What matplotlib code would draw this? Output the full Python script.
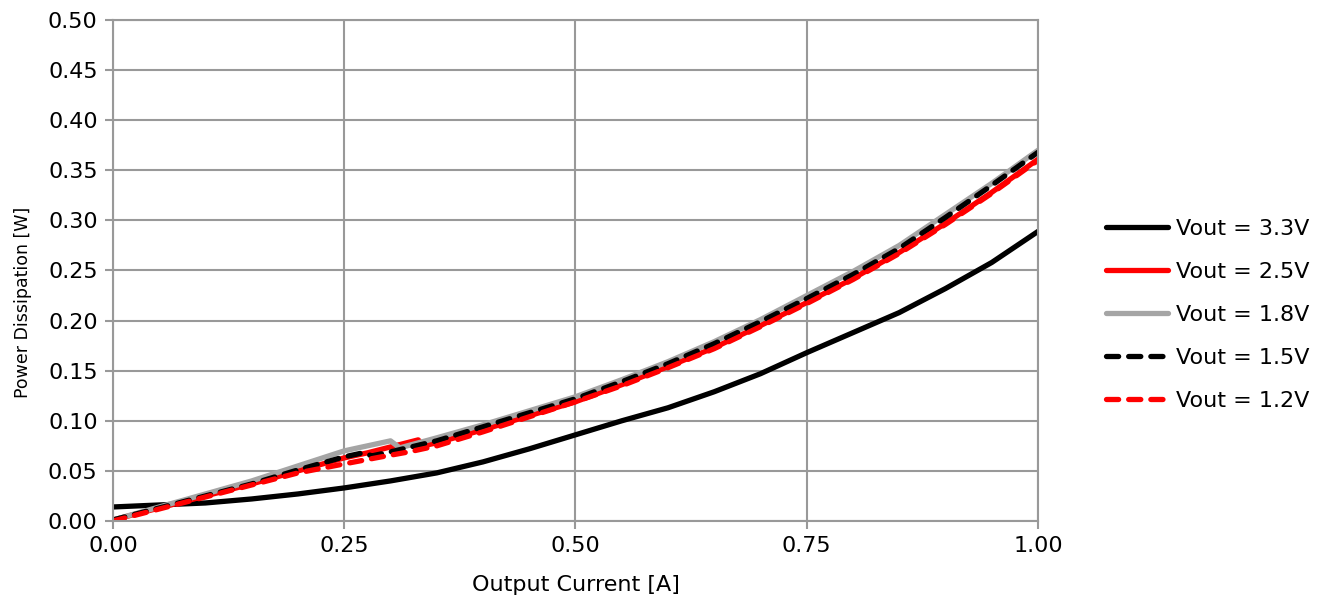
import matplotlib
matplotlib.use('Agg')
import matplotlib.pyplot as plt
from matplotlib.ticker import FormatStrFormatter, MultipleLocator

# Output current [A] / power dissipation [W]
x_33 = [0.00, 0.05, 0.10, 0.15, 0.20, 0.25, 0.30, 0.35, 0.40, 0.45, 0.50,
        0.55, 0.60, 0.65, 0.70, 0.75, 0.80, 0.85, 0.90, 0.95, 1.00]
p_33 = [0.014, 0.016, 0.018, 0.022, 0.027, 0.033, 0.040, 0.048, 0.059, 0.072, 0.086,
        0.100, 0.113, 0.129, 0.147, 0.168, 0.188, 0.208, 0.232, 0.258, 0.289]

x_25 = [0.00, 0.05, 0.10, 0.15, 0.20, 0.25, 0.275, 0.33, 0.335, 0.35, 0.40, 0.45, 0.50,
        0.55, 0.60, 0.65, 0.70, 0.75, 0.80, 0.85, 0.90, 0.95, 1.00]
p_25 = [0.001, 0.013, 0.025, 0.037, 0.050, 0.063, 0.068, 0.081, 0.075, 0.078, 0.091, 0.105, 0.119,
        0.136, 0.154, 0.173, 0.195, 0.218, 0.242, 0.268, 0.297, 0.328, 0.361]

x_18 = [0.00, 0.05, 0.10, 0.15, 0.20, 0.25, 0.30, 0.31, 0.35, 0.40, 0.45, 0.50,
        0.55, 0.60, 0.65, 0.70, 0.75, 0.80, 0.85, 0.90, 0.95, 1.00]
p_18 = [0.001, 0.014, 0.027, 0.040, 0.055, 0.070, 0.080, 0.073, 0.083, 0.096, 0.110, 0.124,
        0.141, 0.159, 0.179, 0.201, 0.225, 0.249, 0.275, 0.306, 0.337, 0.370]

x_15 = [0.00, 0.05, 0.10, 0.15, 0.20, 0.25, 0.27, 0.28, 0.30, 0.35, 0.40, 0.45, 0.50,
        0.55, 0.60, 0.65, 0.70, 0.75, 0.80, 0.85, 0.90, 0.95, 1.00]
p_15 = [0.001, 0.013, 0.025, 0.037, 0.051, 0.064, 0.068, 0.065, 0.069, 0.080, 0.094, 0.108, 0.122,
        0.139, 0.157, 0.177, 0.199, 0.222, 0.246, 0.272, 0.303, 0.335, 0.368]

x_12 = [0.00, 0.05, 0.10, 0.15, 0.20, 0.25, 0.29, 0.32, 0.35, 0.40, 0.45, 0.50,
        0.55, 0.60, 0.65, 0.70, 0.75, 0.80, 0.85, 0.90, 0.95, 1.00]
p_12 = [0.000, 0.012, 0.024, 0.036, 0.048, 0.057, 0.064, 0.069, 0.075, 0.089, 0.104, 0.119,
        0.135, 0.153, 0.172, 0.194, 0.217, 0.241, 0.267, 0.296, 0.327, 0.360]

labels = ['Vout = 3.3V', 'Vout = 2.5V', 'Vout = 1.8V', 'Vout = 1.5V', 'Vout = 1.2V']

fig = plt.figure(figsize=(13.22, 6.03), dpi=100)
ax = fig.add_axes([113/1322, 1-521/603, (1038-113)/1322, (521-20)/603])

lw = 3.8
ax.plot(x_33, p_33, color='black', lw=lw, solid_capstyle='round', solid_joinstyle='round', label=labels[0])
ax.plot(x_25, p_25, color='#ff0000', lw=lw, solid_capstyle='round', solid_joinstyle='round', label=labels[1])
ax.plot(x_18, p_18, color='#a5a5a5', lw=lw, solid_capstyle='round', solid_joinstyle='round', label=labels[2])
ax.plot(x_15, p_15, color='black', lw=lw, dashes=(2.3, 1.9), dash_capstyle='round', label=labels[3])
ax.plot(x_12, p_12, color='#ff0000', lw=lw, dashes=(2.3, 1.9), dash_capstyle='round', label=labels[4])

ax.set_xlim(0, 1.0)
ax.set_ylim(0, 0.5)
ax.xaxis.set_major_locator(MultipleLocator(0.25))
ax.yaxis.set_major_locator(MultipleLocator(0.05))
ax.xaxis.set_major_formatter(FormatStrFormatter('%.2f'))
ax.yaxis.set_major_formatter(FormatStrFormatter('%.2f'))
ax.grid(True, color='#999999', lw=1.5)
ax.set_axisbelow(True)
for s in ax.spines.values():
    s.set_color('#999999')
    s.set_linewidth(1.5)
ax.tick_params(colors='#999999', width=1.5, length=6, labelcolor='black', labelsize=16, pad=5)

ax.set_xlabel('Output Current [A]', fontsize=16)
ax.xaxis.set_label_coords(0.5, -0.108)
ax.set_ylabel('Power Dissipation [W]', fontsize=12.5)
ax.yaxis.set_label_coords(-0.088, 0.437)

ax.legend(loc='upper left', bbox_to_anchor=(1105.5/1322, 1-219/603), bbox_transform=fig.transFigure,
          frameon=False, fontsize=16, handlelength=2.8, handletextpad=0.36,
          labelspacing=1.03, borderpad=0, borderaxespad=0)

fig.savefig('out.png', dpi=100)
